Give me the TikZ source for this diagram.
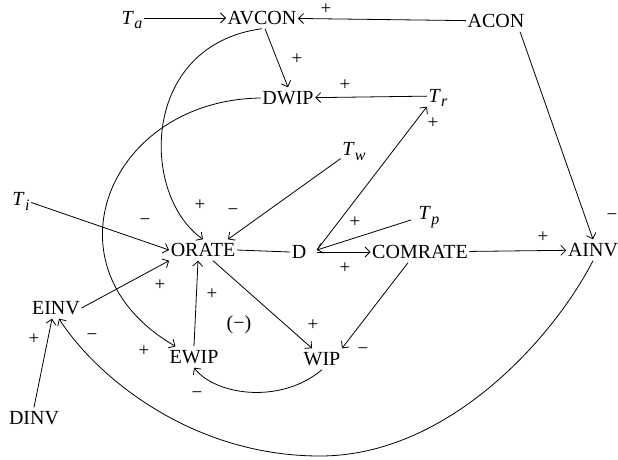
\documentclass[tikz,border=0pt]{standalone}
\usepackage{fontspec}
\setmainfont{Liberation Serif}
\usetikzlibrary{arrows.meta,calc}
\newcommand\Tx[1]{\textit{T}\kern0.3pt\raisebox{-4.5pt}{\fontsize{16}{16}\selectfont\textit{#1}}}
\begin{document}
\begin{tikzpicture}[x=1pt,y=-1pt,
  var/.style={inner xsep=1.5pt,inner ysep=4pt,text height=13pt,text depth=0pt,font=\fontsize{20}{24}\selectfont},
  sgn/.style={inner sep=0pt,font=\fontsize{19}{22}\selectfont},
  link/.style={-{Straight Barb[length=5pt,width=10pt]},line width=0.8pt},
  plain/.style={line width=0.8pt}]
\useasboundingbox (0,0) rectangle (618,460);
% variables
\node[var] (Ta) at (132,18) {\Tx{a}};
\node[var] (AVCON) at (262,18) {AVCON};
\node[var] (ACON) at (496,21) {ACON};
\node[var] (DWIP) at (288,98) {DWIP};
\node[var] (Tr) at (438,96) {\Tx{r}};
\node[var] (Tw) at (354,149) {\Tx{w}};
\node[var] (Ti) at (21,199) {\Tx{i}};
\node[var] (ORATE) at (203,250) {ORATE};
\node[var] (D) at (299,252) {D};
\node[var] (Tp) at (429,213) {\Tx{p}};
\node[var] (COMRATE) at (420,252) {COMRATE};
\node[var] (AINV) at (593,250) {AINV};
\node[var] (EINV) at (56,308) {EINV};
\node[var] (EWIP) at (194,357) {EWIP};
\node[var] (WIP) at (322,359) {WIP};
\node[var] (DINV) at (34,418) {DINV};
\coordinate (Dh) at ([xshift=9pt,yshift=2pt]D.east);
% connectors
\draw[link] (Ta) -- (AVCON);
\draw[link] (ACON) -- (AVCON);
\draw[link] ([xshift=3pt]AVCON.south) -- (DWIP.north);
\draw[link] (Tr) -- (DWIP);
\draw[link] (AVCON.south) .. controls (140,45) and (140,195) .. (ORATE.north);
\draw[link] (DWIP.west) .. controls (108,100) and (40,268) .. (EWIP);
\draw[link] (Tw) -- ([xshift=25pt]ORATE.north);
\draw[link] (Ti) -- (ORATE.west);
\draw[link] (EINV.east) -- (ORATE.south west);
\draw[link] (EWIP.north) -- ([xshift=-5pt]ORATE.south);
\draw[link] ([xshift=10pt]ORATE.south) -- ([xshift=-10pt]WIP.north);
\draw[plain] (ORATE.east) -- (D.west);
\draw[link] ([xshift=-6pt,yshift=-7pt]Tp.west) -- (Dh);
\draw[link] (Dh) -- (Tr.south west);
\draw[link] ([yshift=-2pt]Dh) -- (COMRATE.west);
\draw[link] (COMRATE) -- (AINV);
\draw[link] ([xshift=-6pt]ACON.south east) -- (AINV.north);
\draw[link] ([xshift=-12pt]COMRATE.south) -- (WIP.north east);
\draw[link] (WIP.south) .. controls (280,405) and (215,395) .. (EWIP.south);
\draw[link] (AINV.south) .. controls (555,335) and (450,456) .. (320,456)
  .. controls (190,456) and (95,375) .. ([xshift=3pt]EINV.south);
\draw[link] (DINV.north) -- ([xshift=-4pt]EINV.south);
% signs
\node[sgn] (s1) at (326,9.5) {+};
\node[sgn] (s2) at (297,59) {+};
\node[sgn] (s3) at (345,85) {+};
\node[sgn] (s4) at (433,123) {+};
\node[sgn] (s5) at (200,205) {+};
\node[sgn] (s6) at (233,212) {−};
\node[sgn] (s7) at (145,222) {−};
\node[sgn] (s8) at (355,222) {+};
\node[sgn] (s9) at (345,268) {+};
\node[sgn] (s10) at (543,237) {+};
\node[sgn] (s11) at (612,217) {−};
\node[sgn] (s12) at (160,285) {+};
\node[sgn] (s13) at (212,294) {+};
\node[sgn] (s14) at (313,325) {+};
\node[sgn] (s15) at (363,351) {−};
\node[sgn] (s16) at (144,351) {+};
\node[sgn] (s17) at (197,395) {−};
\node[sgn] (s18) at (34,339) {+};
\node[sgn] (s19) at (92,337) {−};
\node[inner sep=0pt,font=\fontsize{20}{24}\selectfont] (loop) at (239,325) {(−)};
\end{tikzpicture}
\end{document}
